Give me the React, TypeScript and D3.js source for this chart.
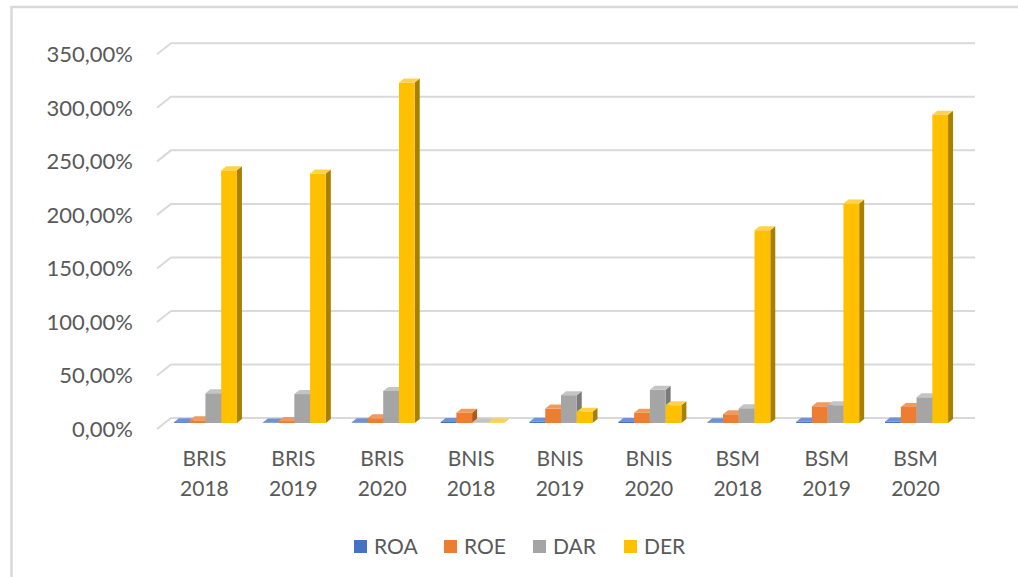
import React, { useEffect, useRef } from 'react';
import * as d3 from 'd3';

// Data (values in %)
const categories = ['BRIS 2018', 'BRIS 2019', 'BRIS 2020', 'BNIS 2018', 'BNIS 2019', 'BNIS 2020', 'BSM 2018', 'BSM 2019', 'BSM 2020'];
const seriesNames = ['ROA', 'ROE', 'DAR', 'DER'];
const roa = [0.8, 0.5, 0.6, 1.0, 1.2, 1.0, 0.6, 1.2, 1.4];
const roe = [2.5, 1.8, 4.4, 9.6, 13.5, 9.6, 8.2, 15.6, 15.0];
const dar = [27.8, 27.0, 30.0, 0.4, 26.0, 31.0, 13.8, 16.6, 24.0];
const der = [236, 233, 318, 0.5, 10.5, 16.6, 180, 205, 288];
const yTicks = [0, 50, 100, 150, 200, 250, 300, 350];

const seriesValues = [roa, roe, dar, der];
const colors = ['#4472C4', '#ED7D31', '#A5A5A5', '#FFC000'];
const sideColors = ['#2F5597', '#B5561A', '#7A7A7A', '#A88000'];
const topColors = ['#6F92D2', '#F29A5E', '#C4C4C4', '#FFD24A'];

const W = 1018;
const H = 577;
const FONT = 'Lato, "Open Sans", sans-serif';
const TEXT = '#595959';

export default function App() {
  const svgRef = useRef<SVGSVGElement>(null);

  useEffect(() => {
    if (!svgRef.current) return;
    const svg = d3.select(svgRef.current);
    svg.selectAll('*').remove();

    // back wall / depth geometry
    const backLeft = 171;
    const backRight = 975;
    const depthX = 14;
    const depthY = 11;

    const yScale = d3.scaleLinear().domain([0, 350]).range([418, 43.3]);
    const xScale = d3.scaleBand<string>().domain(categories).range([160, 960]);
    const clusterW = 63;
    const xSeries = d3.scaleBand<string>().domain(seriesNames).range([0, clusterW]);

    const locale = d3.formatLocale({ decimal: ',', thousands: '.', grouping: [3], currency: ['', ''] });
    const fmt = locale.format('.2f');

    // outer frame (left + top edges)
    svg.append('path')
      .attr('d', `M11.5,${H} L11.5,7 L${W},7`)
      .attr('fill', 'none')
      .attr('stroke', '#D9D9D9')
      .attr('stroke-width', 2.5);

    // gridlines on the back wall, with the slanted side-wall segment
    yTicks.forEach((t) => {
      const y = yScale(t);
      svg.append('path')
        .attr('d', `M${backLeft - depthX},${y + depthY} L${backLeft},${y} L${backRight},${y}`)
        .attr('fill', 'none')
        .attr('stroke', '#D9D9D9')
        .attr('stroke-width', 2);

      svg.append('text')
        .attr('x', 133)
        .attr('y', y + 11)
        .attr('dy', '0.36em')
        .attr('text-anchor', 'end')
        .style('font-family', FONT)
        .style('font-size', '22px')
        .style('fill', TEXT)
        .text(`${fmt(t)}%`);
    });

    // 3D columns
    const base = 423;
    const barOffsetY = base - yScale(0);
    const sideDx = 5;
    const sideDy = 4;
    const bw = xSeries.bandwidth();

    categories.forEach((cat, ci) => {
      const x0 = (xScale(cat) || 0) + (xScale.bandwidth() - clusterW) / 2 + 1;
      seriesNames.forEach((s, si) => {
        const v = seriesValues[si][ci];
        const x = x0 + (xSeries(s) || 0);
        const top = yScale(v) + barOffsetY;
        const g = svg.append('g');
        // side face
        g.append('path')
          .attr('d', `M${x + bw},${top} L${x + bw + sideDx},${top - sideDy} L${x + bw + sideDx},${base - sideDy} L${x + bw},${base} Z`)
          .attr('fill', sideColors[si]);
        // front face
        g.append('rect')
          .attr('x', x)
          .attr('y', top)
          .attr('width', bw)
          .attr('height', Math.max(0, base - top))
          .attr('fill', colors[si]);
        // top face
        g.append('path')
          .attr('d', `M${x},${top} L${x + bw},${top} L${x + bw + sideDx},${top - sideDy} L${x + sideDx},${top - sideDy} Z`)
          .attr('fill', topColors[si]);
      });

      // category label, two lines
      const [name, year] = cat.split(' ');
      const cx = (xScale(cat) || 0) + xScale.bandwidth() / 2;
      const label = svg.append('text')
        .attr('text-anchor', 'middle')
        .style('font-family', FONT)
        .style('font-size', '21px')
        .style('fill', TEXT);
      label.append('tspan').attr('x', cx).attr('y', 465.5).text(name);
      label.append('tspan').attr('x', cx).attr('y', 495.5).text(year);
    });

    // legend
    const legendX = [354, 444, 533, 624];
    seriesNames.forEach((s, i) => {
      svg.append('rect')
        .attr('x', legendX[i])
        .attr('y', 540)
        .attr('width', 13)
        .attr('height', 13)
        .attr('fill', colors[i]);
      svg.append('text')
        .attr('x', legendX[i] + 20)
        .attr('y', 553.5)
        .style('font-family', FONT)
        .style('font-size', '21px')
        .style('fill', TEXT)
        .text(s);
    });
  }, []);

  return (
    <svg
      ref={svgRef}
      width={W}
      height={H}
      style={{ position: 'absolute', left: 0, top: 0, background: '#fff' }}
    />
  );
}
